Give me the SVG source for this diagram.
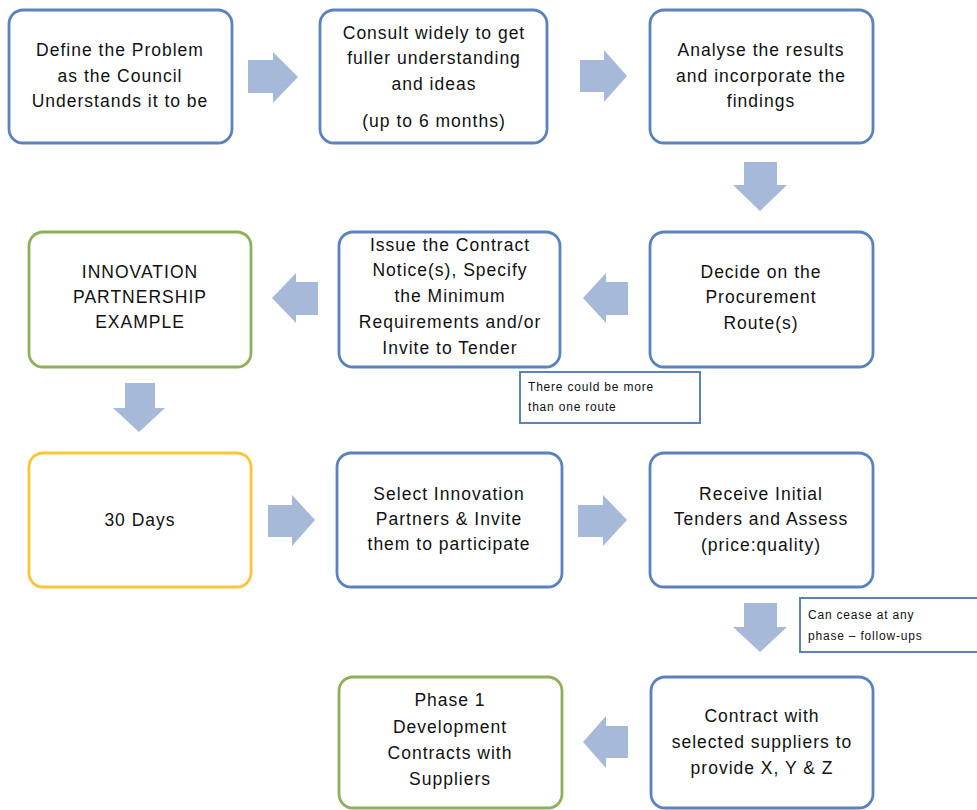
<svg xmlns="http://www.w3.org/2000/svg" width="977" height="810" viewBox="0 0 977 810">
<style>
.box{fill:#fff;stroke-width:2.8}
.blue{stroke:#5b82bd}
.green{stroke:#8fb05a}
.yellow{stroke:#fbc53a}
.arrow{fill:#a7b9d9}
.t{font-family:"Liberation Sans",Arial,sans-serif;font-size:17.5px;fill:#111;text-anchor:middle;letter-spacing:1px}
.c{fill:#fff;stroke:#5b82bd;stroke-width:2}
.ct{font-family:"Liberation Sans",Arial,sans-serif;font-size:12px;fill:#111;letter-spacing:0.8px}
</style>
<rect width="977" height="810" fill="#fff"/>
<g id="connectors">
<polygon class="arrow" points="248,60 273,60 273,52 298,77 273,103 273,93 248,93"/>
<polygon class="arrow" points="580,60 604,60 604,50 627,76 604,102 604,92 580,92"/>
<polygon class="arrow" points="744,162 777,162 777,185 787,185 760,211 733,185 744,185"/>
<polygon class="arrow" points="628,282 606,282 606,273 583,298 606,323 606,315 628,315"/>
<polygon class="arrow" points="318,282 296,282 296,273 272,298 296,323 296,315 318,315"/>
<polygon class="arrow" points="125,383 155,383 155,408 165,408 139,432 113,408 125,408"/>
<polygon class="arrow" points="268,505 292,505 292,495 315,520 292,546 292,537 268,537"/>
<polygon class="arrow" points="578,505 603,505 603,495 627,520 603,546 603,537 578,537"/>
<polygon class="arrow" points="744,603 777,603 777,627 787,627 760,652 733,627 744,627"/>
<polygon class="arrow" points="628,726 606,726 606,716 583,742 606,768 606,758 628,758"/>
</g>
<g id="n1"><rect class="box blue" x="9" y="10" width="223" height="133" rx="14"/>
<text class="t" x="120" y="56">Define the Problem</text><text class="t" x="120" y="82">as the Council</text><text class="t" x="120" y="107">Understands it to be</text></g>
<g id="n2"><rect class="box blue" x="320" y="10" width="227" height="133" rx="14"/>
<text class="t" x="434" y="39">Consult widely  to get</text><text class="t" x="434" y="64">fuller understanding</text><text class="t" x="434" y="90">and ideas</text><text class="t" x="434" y="127">(up to 6 months)</text></g>
<g id="n3"><rect class="box blue" x="650" y="10" width="223" height="133" rx="14"/>
<text class="t" x="761" y="56">Analyse the results</text><text class="t" x="761" y="82">and incorporate the</text><text class="t" x="761" y="107">findings</text></g>
<g id="n4"><rect class="box green" x="29" y="232" width="222" height="135" rx="14"/>
<text class="t" x="140" y="278">INNOVATION</text><text class="t" x="140" y="303">PARTNERSHIP</text><text class="t" x="140" y="328">EXAMPLE</text></g>
<g id="n5"><rect class="box blue" x="339" y="232" width="221" height="135" rx="14"/>
<text class="t" x="450" y="251">Issue the Contract</text><text class="t" x="450" y="276">Notice(s), Specify</text><text class="t" x="450" y="302">the Minimum</text><text class="t" x="450" y="328">Requirements and/or</text><text class="t" x="450" y="354">Invite to Tender</text></g>
<g id="n6"><rect class="box blue" x="650" y="232" width="223" height="135" rx="14"/>
<text class="t" x="761" y="278">Decide on the</text><text class="t" x="761" y="303">Procurement</text><text class="t" x="761" y="329">Route(s)</text></g>
<g id="c1"><rect class="c" x="520" y="372" width="180" height="51"/>
<text class="ct" x="528" y="391">There could be more</text><text class="ct" x="528" y="411">than one route</text></g>
<g id="n7"><rect class="box yellow" x="29" y="453" width="222" height="134" rx="14"/>
<text class="t" x="140" y="526">30 Days</text></g>
<g id="n8"><rect class="box blue" x="337" y="453" width="225" height="134" rx="14"/>
<text class="t" x="449" y="500">Select Innovation</text><text class="t" x="449" y="525">Partners &amp; Invite</text><text class="t" x="449" y="550">them to participate</text></g>
<g id="n9"><rect class="box blue" x="650" y="453" width="223" height="134" rx="14"/>
<text class="t" x="761" y="500">Receive Initial</text><text class="t" x="761" y="525">Tenders and Assess</text><text class="t" x="761" y="551">(price:quality)</text></g>
<g id="c2"><rect class="c" x="800" y="598" width="178" height="54"/>
<text class="ct" x="808" y="619">Can cease at any</text><text class="ct" x="808" y="640">phase – follow-ups</text></g>
<g id="n10"><rect class="box green" x="339" y="677" width="223" height="131" rx="14"/>
<text class="t" x="450" y="706">Phase 1</text><text class="t" x="450" y="733">Development</text><text class="t" x="450" y="759">Contracts with</text><text class="t" x="450" y="785">Suppliers</text></g>
<g id="n11"><rect class="box blue" x="651" y="677" width="222" height="131" rx="14"/>
<text class="t" x="762" y="722">Contract with</text><text class="t" x="762" y="748">selected  suppliers to</text><text class="t" x="762" y="774">provide X, Y &amp; Z</text></g>
</svg>
